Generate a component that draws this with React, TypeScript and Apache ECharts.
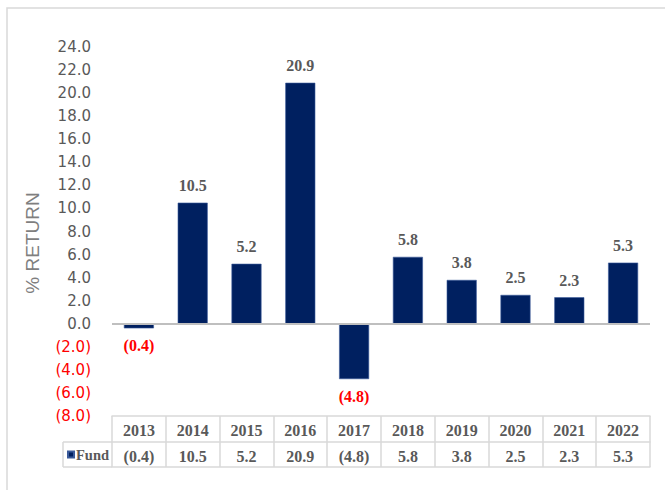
import React, { useEffect, useRef } from "react";
import * as echarts from "echarts";

const years = ["2013", "2014", "2015", "2016", "2017", "2018", "2019", "2020", "2021", "2022"];
const fundReturns = [-0.4, 10.5, 5.2, 20.9, -4.8, 5.8, 3.8, 2.5, 2.3, 5.3];
const seriesName = "Fund";
const yMin = -8;
const yMax = 24;
const yStep = 2;
const yTitle = "% RETURN";

const fmt = (v: number) => (v < 0 ? `(${Math.abs(v).toFixed(1)})` : v.toFixed(1));

export default function App() {
  const ref = useRef<HTMLDivElement>(null);
  useEffect(() => {
    if (!ref.current) return;
    const chart = echarts.init(ref.current, undefined, { renderer: "svg" });
    const gridLeft = 112;
    const gridRight = 15;
    const gridTop = 47;
    const gridBottom = 74;
    const H = 490;
    const axisY = H - gridBottom;
    const serif = "Liberation Serif";
    const sans = "DejaVu Sans";
    const tableColor = "#D9D9D9";
    const textGray = "#595959";

    const barData = fundReturns.map((v) => ({
      value: v,
      label: {
        position: v < 0 ? "bottom" : "top",
        color: v < 0 ? "#FF0000" : textGray,
      },
    }));

    chart.setOption({
      animation: false,
      backgroundColor: "#ffffff",
      grid: { left: gridLeft, right: gridRight, top: gridTop, bottom: gridBottom },
      legend: {
        data: [{ name: seriesName, icon: "rect" }],
        left: 67,
        top: axisY + 31,
        itemWidth: 6,
        itemHeight: 6,
        itemGap: 3,
        padding: 0,
        textStyle: { fontFamily: serif, fontSize: 14.5, fontWeight: "bold", color: textGray, padding: [0, 0, 0, -3] },
      },
      xAxis: [
        {
          type: "category",
          data: years,
          position: "bottom",
          axisLine: { show: true, onZero: false, lineStyle: { color: tableColor, width: 1.5 } },
          axisTick: { show: true, length: 51, interval: 0, lineStyle: { color: tableColor, width: 1.5 } },
          axisLabel: { margin: 6, interval: 0, fontFamily: serif, fontSize: 16, fontWeight: "bold", color: textGray, lineHeight: 16 },
          splitLine: { show: false },
        },
        {
          type: "category",
          data: years,
          position: "bottom",
          offset: 26,
          axisLine: { show: true, onZero: false, lineStyle: { color: tableColor, width: 1.5 } },
          axisTick: { show: false },
          axisLabel: {
            margin: 6,
            interval: 0,
            fontFamily: serif,
            fontSize: 16,
            fontWeight: "bold",
            color: textGray,
            lineHeight: 16,
            formatter: (_: string, i: number) => fmt(fundReturns[i]),
          },
        },
        {
          type: "category",
          data: years,
          position: "bottom",
          offset: 51,
          axisLine: { show: true, onZero: false, lineStyle: { color: tableColor, width: 1.5 } },
          axisTick: { show: false },
          axisLabel: { show: false },
        },
      ],
      yAxis: {
        type: "value",
        min: yMin,
        max: yMax,
        interval: yStep,
        axisLine: { show: false },
        axisTick: { show: false },
        splitLine: { show: false },
        axisLabel: {
          margin: 21,
          fontFamily: sans,
          fontSize: 15,
          color: textGray,
          formatter: (v: number) => (v < 0 ? `{neg|${fmt(v)}}` : fmt(v)),
          rich: { neg: { color: "#FF0000", fontFamily: sans, fontSize: 15 } },
        },
      },
      series: [
        {
          name: seriesName,
          type: "bar",
          xAxisIndex: 0,
          data: barData,
          barWidth: 30,
          itemStyle: { color: "#002060", borderColor: "#3A5A9A", borderWidth: 0.6 },
          label: {
            show: true,
            distance: 9,
            fontFamily: serif,
            fontWeight: "bold",
            fontSize: 16,
            formatter: (p: any) => fmt(p.value),
          },
          markLine: {
            silent: true,
            symbol: "none",
            label: { show: false },
            lineStyle: { color: "#BFBFBF", width: 2, type: "solid" },
            data: [{ yAxis: 0 }],
          },
        },
      ],
      graphic: [
        {
          type: "rect",
          shape: { x: 7, y: 8, width: 720, height: 600 },
          style: { fill: "none", stroke: "#D9D9D9", lineWidth: 1.5 },
          silent: true,
        },
        {
          type: "line",
          shape: { x1: 63, y1: axisY + 26, x2: gridLeft, y2: axisY + 26 },
          style: { stroke: tableColor, lineWidth: 1.5 },
        },
        {
          type: "line",
          shape: { x1: 63, y1: axisY + 51, x2: gridLeft, y2: axisY + 51 },
          style: { stroke: tableColor, lineWidth: 1.5 },
        },
        {
          type: "line",
          shape: { x1: 63, y1: axisY + 26, x2: 63, y2: axisY + 51 },
          style: { stroke: tableColor, lineWidth: 1.5 },
        },
        {
          type: "text",
          x: 32,
          y: 243,
          rotation: Math.PI / 2,
          style: {
            text: yTitle,
            fontFamily: "Liberation Sans",
            fontSize: 19,
            fill: "#7F7F7F",
            align: "center",
            verticalAlign: "middle",
          },
        },
      ],
    });
    return () => chart.dispose();
  }, []);
  return (
    <div
      ref={ref}
      style={{ position: "fixed", left: 0, top: 0, width: 665, height: 490 }}
    />
  );
}
